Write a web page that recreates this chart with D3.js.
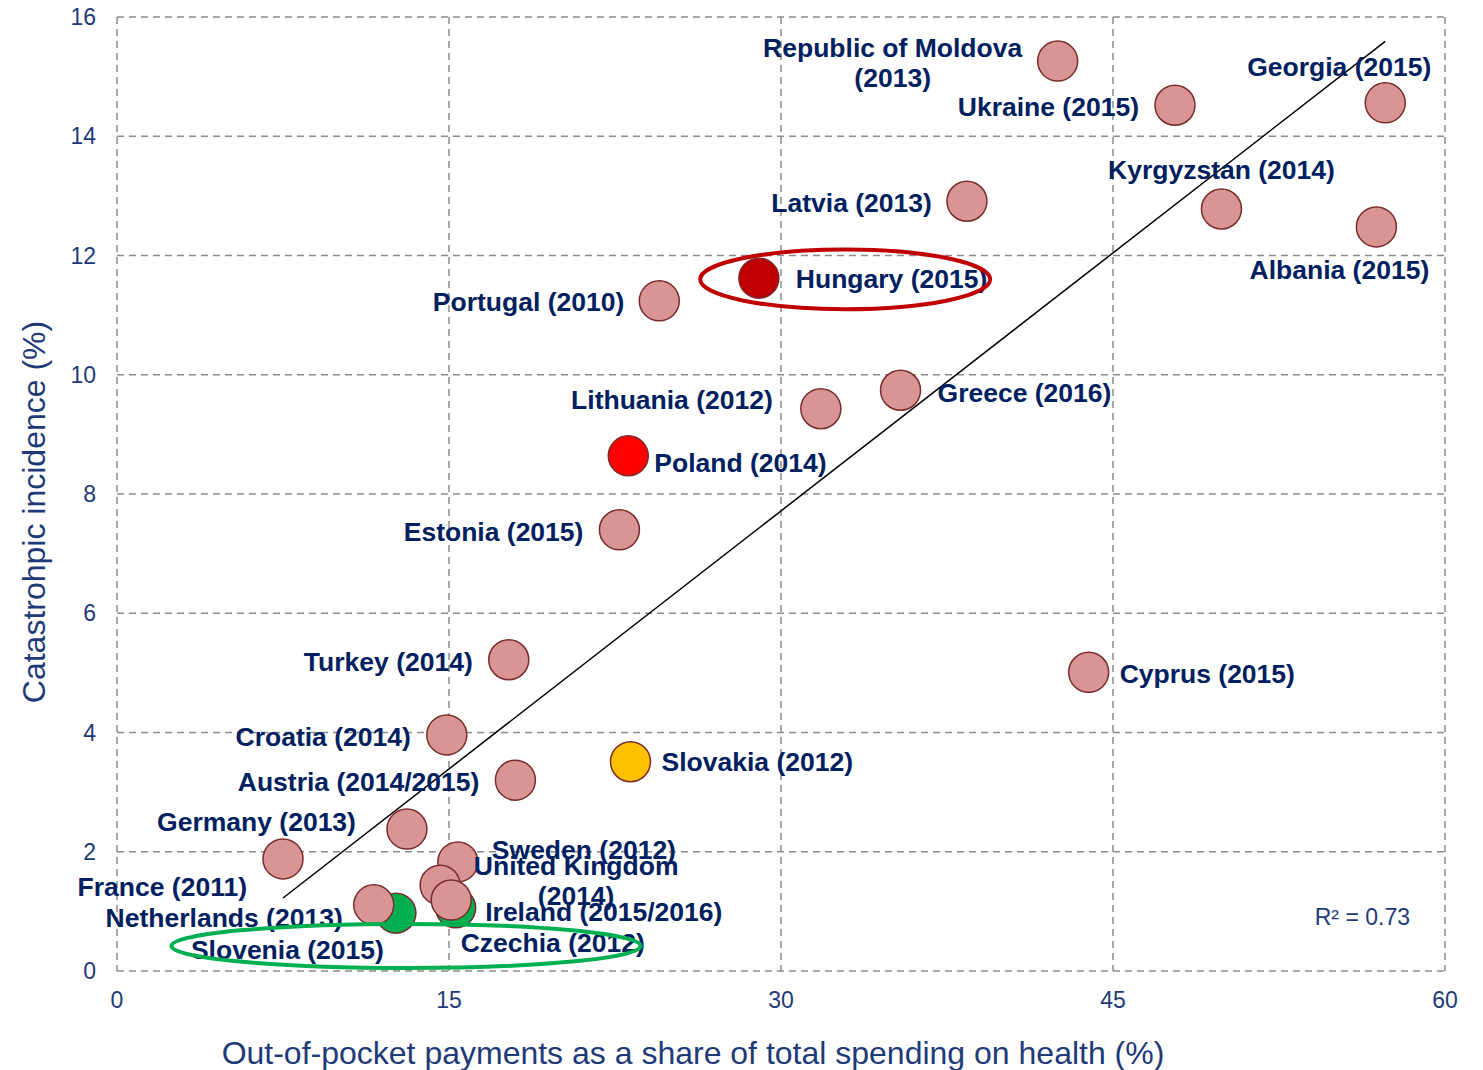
<!DOCTYPE html>
<html lang="en">
<head>
<meta charset="utf-8">
<script src="https://d3js.org/d3.v7.min.js"></script>
<style>
  body { margin: 0; background: #fff; }
  text { font-family: "Liberation Sans", Arial, sans-serif; }
</style>
</head>
<body>
<script>
// data
var countries = ["Republic of Moldova (2013)", "Ukraine (2015)", "Georgia (2015)", "Kyrgyzstan (2014)",
  "Albania (2015)", "Latvia (2013)", "Hungary (2015)", "Portugal (2010)", "Lithuania (2012)",
  "Greece (2016)", "Poland (2014)", "Estonia (2015)", "Turkey (2014)", "Cyprus (2015)",
  "Croatia (2014)", "Slovakia (2012)", "Austria (2014/2015)", "Germany (2013)", "France (2011)",
  "Sweden (2012)", "United Kingdom (2014)", "Ireland (2015/2016)", "Czechia (2012)",
  "Netherlands (2013)", "Slovenia (2015)"];
var oopShare = [42.5, 47.8, 57.3, 49.9, 56.9, 38.4, 29.0, 24.5, 31.8, 35.4, 23.1, 22.7, 17.7, 43.9,
  14.9, 23.2, 18.0, 13.1, 7.5, 15.4, 14.6, 15.1, 15.3, 11.6, 12.6];
var catastrophic = [15.26, 14.52, 14.56, 12.78, 12.48, 12.91, 11.62, 11.24, 9.43, 9.74, 8.64, 7.40, 5.22, 5.01,
  3.96, 3.51, 3.20, 2.38, 1.88, 1.83, 1.44, 1.19, 1.06, 1.11, 0.97];
var xTicks = [0, 15, 30, 45, 60];
var yTicks = [0, 2, 4, 6, 8, 10, 12, 14, 16];

// highlight groups
var highlight = {
  "Hungary (2015)": "#c00000",
  "Poland (2014)": "#ff0000",
  "Slovakia (2012)": "#ffc000",
  "Czechia (2012)": "#00b050",
  "Slovenia (2015)": "#00b050"
};

// label placement: [dx, dy, anchor, lines]
var labelPos = {
  "Republic of Moldova (2013)": [-165, -13, "middle", ["Republic of Moldova", "(2013)"]],
  "Ukraine (2015)": [-36, 2, "end"],
  "Georgia (2015)": [-46, -36, "middle"],
  "Kyrgyzstan (2014)": [0, -39, "middle"],
  "Albania (2015)": [-37, 43, "middle"],
  "Latvia (2013)": [-35, 2, "end"],
  "Hungary (2015)": [37, 1, "start"],
  "Portugal (2010)": [-35, 1, "end"],
  "Lithuania (2012)": [-48, -9, "end"],
  "Greece (2016)": [37, 3, "start"],
  "Poland (2014)": [26, 7, "start"],
  "Estonia (2015)": [-36, 2, "end"],
  "Turkey (2014)": [-36, 2, "end"],
  "Cyprus (2015)": [31, 2, "start"],
  "Croatia (2014)": [-36, 2, "end"],
  "Slovakia (2012)": [31, 0, "start"],
  "Austria (2014/2015)": [-36, 2, "end"],
  "Germany (2013)": [-51, -7, "end"],
  "France (2011)": [-36, 28, "end"],
  "Sweden (2012)": [34, -12, "start"],
  "United Kingdom (2014)": [136, -19, "middle", ["United Kingdom", "(2014)"]],
  "Ireland (2015/2016)": [34, 12, "start"],
  "Czechia (2012)": [5, 35, "start"],
  "Netherlands (2013)": [-31, 13, "end"],
  "Slovenia (2015)": [-12, 37, "end"]
};

// ellipses: centre (data units), radii (data units), colour
var rings = [
  { cx: 32.9, cy: 11.6, rx: 6.55, ry: 0.5, color: "#c00000" },
  { cx: 13.06, cy: 0.42, rx: 10.6, ry: 0.37, color: "#00b050" }
];

const W = 1483, H = 1070;
const pLeft = 117, pTop = 17, pRight = 1445, pBottom = 971;

const svg = d3.select("body").append("svg")
  .attr("width", W).attr("height", H);

var x = d3.scaleLinear().domain([0, 60]).range([pLeft, pRight]);
var y = d3.scaleLinear().domain([0, 16]).range([pBottom, pTop]);

// grid
svg.append("g").selectAll("line").data(xTicks).enter().append("line")
  .attr("x1", d => x(d)).attr("x2", d => x(d))
  .attr("y1", pTop).attr("y2", pBottom)
  .attr("stroke", "#8c8c8c").attr("stroke-width", 1.5).attr("stroke-dasharray", "7,5");
svg.append("g").selectAll("line").data(yTicks).enter().append("line")
  .attr("y1", d => y(d)).attr("y2", d => y(d))
  .attr("x1", pLeft).attr("x2", pRight)
  .attr("stroke", "#8c8c8c").attr("stroke-width", 1.5).attr("stroke-dasharray", "7,5");

// tick labels
svg.append("g").selectAll("text").data(xTicks).enter().append("text")
  .attr("x", d => x(d)).attr("y", pBottom + 37)
  .attr("text-anchor", "middle")
  .style("font-size", "23px").attr("fill", "#1f3a78")
  .text(d => d);
svg.append("g").selectAll("text").data(yTicks).enter().append("text")
  .attr("x", pLeft - 21).attr("y", d => y(d) + 8)
  .attr("text-anchor", "end")
  .style("font-size", "23px").attr("fill", "#1f3a78")
  .text(d => d);

// axis titles
svg.append("text")
  .attr("x", 693).attr("y", 1064)
  .attr("text-anchor", "middle")
  .style("font-size", "32px").attr("fill", "#1f3a78")
  .text("Out-of-pocket payments as a share of total spending on health (%)");
svg.append("text")
  .attr("transform", "translate(45,512) rotate(-90)")
  .attr("text-anchor", "middle")
  .style("font-size", "32px").attr("fill", "#1f3a78")
  .text("Catastrohpic incidence (%)");

// linear trend line (least squares)
var mx = d3.mean(oopShare), my = d3.mean(catastrophic);
var sxy = d3.sum(oopShare, (v, i) => (v - mx) * (catastrophic[i] - my));
var sxx = d3.sum(oopShare, v => (v - mx) * (v - mx));
var slope = sxy / sxx, icpt = my - slope * mx;
var xr = d3.extent(oopShare);
svg.append("line")
  .attr("x1", x(xr[0])).attr("y1", y(icpt + slope * xr[0]))
  .attr("x2", x(xr[1])).attr("y2", y(icpt + slope * xr[1]))
  .attr("stroke", "#000").attr("stroke-width", 1.5);

svg.append("text")
  .attr("x", 1410).attr("y", 925)
  .attr("text-anchor", "end")
  .style("font-size", "23px").attr("fill", "#1f3a78")
  .text("R² = 0.73");

// points: green ones underneath
var pts = countries.map((c, i) => ({ name: c, x: oopShare[i], y: catastrophic[i] }));
pts.sort((a, b) => (highlight[a.name] === "#00b050" ? 0 : 1) - (highlight[b.name] === "#00b050" ? 0 : 1));

svg.append("g").selectAll("circle").data(pts).enter().append("circle")
  .attr("cx", d => x(d.x)).attr("cy", d => y(d.y)).attr("r", 20)
  .attr("fill", d => highlight[d.name] || "#d99594")
  .attr("stroke", "#7a2c2c").attr("stroke-width", 1.5);

// labels
var lab = svg.append("g").selectAll("text").data(pts).enter().append("text")
  .attr("x", d => x(d.x) + labelPos[d.name][0])
  .attr("y", d => y(d.y) + labelPos[d.name][1] + 9)
  .attr("text-anchor", d => labelPos[d.name][2])
  .style("font-size", "26.5px").style("font-weight", "bold").attr("fill", "#002060");
lab.each(function(d) {
  var lines = labelPos[d.name][3] || [d.name];
  var t = d3.select(this);
  lines.forEach((l, k) => {
    t.append("tspan").attr("x", x(d.x) + labelPos[d.name][0])
      .attr("dy", k === 0 ? 0 : 30).text(l);
  });
});

// rings
svg.append("g").selectAll("ellipse").data(rings).enter().append("ellipse")
  .attr("cx", d => x(d.cx)).attr("cy", d => y(d.cy))
  .attr("rx", d => x(d.rx) - x(0)).attr("ry", d => y(0) - y(d.ry))
  .attr("fill", "none").attr("stroke", d => d.color).attr("stroke-width", 4);
</script>
</body>
</html>
